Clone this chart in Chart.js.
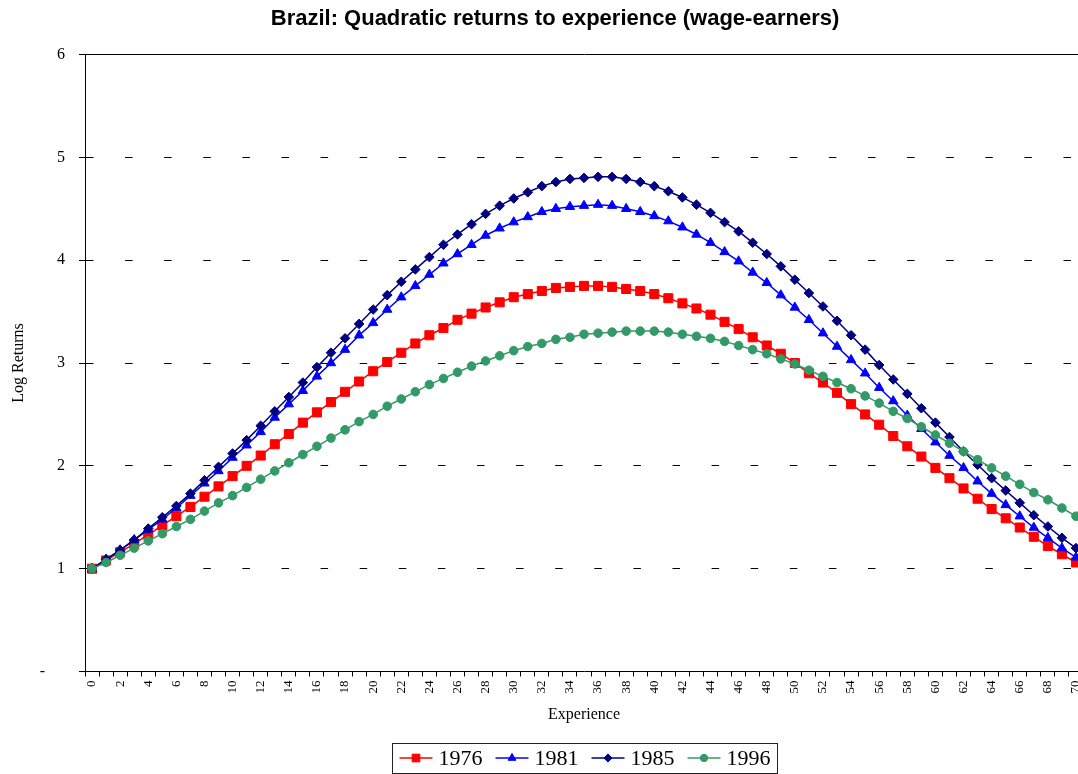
<!DOCTYPE html>
<html>
<head>
<meta charset="utf-8">
<title>Brazil: Quadratic returns to experience</title>
<script src="https://cdn.jsdelivr.net/npm/chart.js@4.4.1/dist/chart.umd.min.js"></script>
<style>
html,body{margin:0;padding:0;overflow:hidden;background:#fff;}
#wrap{position:relative;width:1110px;height:774px;}
</style>
</head>
<body>
<div id="wrap"><canvas id="chart"></canvas></div>
<script>
'use strict';

// years of experience (x categories)
const experience = ['0','1','2','3','4','5','6','7','8','9','10','11','12','13','14','15','16','17','18','19',
  '20','21','22','23','24','25','26','27','28','29','30','31','32','33','34','35','36','37','38','39',
  '40','41','42','43','44','45','46','47','48','49','50','51','52','53','54','55','56','57','58','59',
  '60','61','62','63','64','65','66','67','68','69','70'];

const r1976 = [1.00,1.08,1.16,1.24,1.33,1.42,1.51,1.60,1.70,1.80,
  1.90,2.00,2.10,2.21,2.31,2.42,2.52,2.62,2.72,2.82,
  2.92,3.01,3.10,3.19,3.27,3.34,3.42,3.48,3.54,3.59,
  3.64,3.67,3.70,3.73,3.74,3.75,3.75,3.74,3.72,3.70,
  3.67,3.63,3.58,3.53,3.47,3.40,3.33,3.25,3.17,3.09,
  3.00,2.90,2.81,2.71,2.60,2.50,2.40,2.29,2.19,2.09,
  1.98,1.88,1.78,1.68,1.58,1.49,1.40,1.31,1.22,1.14,1.06];

const r1981 = [1.00,1.09,1.18,1.28,1.38,1.48,1.59,1.71,1.83,1.95,
  2.08,2.20,2.33,2.47,2.60,2.73,2.87,3.00,3.13,3.27,
  3.39,3.52,3.64,3.75,3.86,3.97,4.06,4.15,4.24,4.31,
  4.37,4.42,4.47,4.50,4.52,4.53,4.54,4.53,4.50,4.47,
  4.43,4.38,4.32,4.25,4.17,4.08,3.99,3.88,3.78,3.66,
  3.54,3.42,3.29,3.16,3.03,2.90,2.76,2.63,2.49,2.36,
  2.23,2.10,1.98,1.85,1.73,1.62,1.51,1.40,1.30,1.20,1.11];

const r1985 = [1.00,1.09,1.18,1.28,1.39,1.50,1.61,1.73,1.86,1.99,
  2.12,2.25,2.39,2.53,2.67,2.81,2.96,3.10,3.24,3.38,
  3.52,3.66,3.79,3.91,4.03,4.15,4.25,4.35,4.45,4.53,
  4.60,4.66,4.72,4.76,4.79,4.80,4.81,4.81,4.79,4.76,
  4.72,4.67,4.61,4.54,4.46,4.37,4.28,4.17,4.06,3.94,
  3.81,3.68,3.55,3.41,3.27,3.13,2.98,2.84,2.70,2.56,
  2.42,2.28,2.14,2.01,1.88,1.76,1.64,1.52,1.41,1.30,1.20];

const r1996 = [1.00,1.06,1.13,1.20,1.27,1.34,1.41,1.48,1.56,1.64,
  1.71,1.79,1.87,1.95,2.03,2.11,2.19,2.27,2.35,2.43,
  2.50,2.58,2.65,2.72,2.79,2.85,2.91,2.97,3.02,3.07,
  3.12,3.16,3.19,3.23,3.25,3.28,3.29,3.30,3.31,3.31,
  3.31,3.30,3.28,3.26,3.24,3.21,3.17,3.13,3.09,3.04,
  2.99,2.93,2.87,2.81,2.75,2.68,2.61,2.53,2.46,2.38,
  2.30,2.22,2.14,2.06,1.98,1.90,1.82,1.74,1.67,1.59,1.51];

const SERIF = '"Liberation Serif", "Times New Roman", serif';
const SANS = '"Liberation Sans", Arial, sans-serif';

function series(label, data, color, style, radius, order) {
  return {
    label, data, order,
    borderColor: color, backgroundColor: color,
    borderWidth: 1.5, tension: 0,
    pointStyle: style, pointRadius: radius, pointHoverRadius: radius,
    pointBorderWidth: 1, pointBorderColor: color, pointBackgroundColor: color
  };
}

// Excel-like boxed legend: line + marker + year, centred under the plot
const boxLegend = {
  id: 'boxLegend',
  afterDraw(chart) {
    const {ctx, chartArea} = chart;
    const sets = chart.data.datasets;
    ctx.save();
    ctx.font = '22px ' + SERIF;
    const lineW = 33, gap = 6, pad = 7, itemGap = 13;
    const widths = sets.map(ds => ctx.measureText(ds.label).width);
    const total = pad * 2 + widths.reduce((a, w) => a + lineW + gap + w, 0) + itemGap * (sets.length - 1);
    const cx = (chartArea.left + chartArea.right) / 2;
    const top = 743, h = 30, cy = top + h / 2;
    let x = Math.round(cx - total / 2) + 0.5;
    ctx.strokeStyle = '#222'; ctx.lineWidth = 1;
    ctx.strokeRect(x, top + 0.5, total, h);
    x += pad;
    sets.forEach((ds, i) => {
      ctx.strokeStyle = ds.borderColor; ctx.fillStyle = ds.backgroundColor;
      ctx.lineWidth = ds.borderWidth;
      ctx.beginPath(); ctx.moveTo(x, cy); ctx.lineTo(x + lineW, cy); ctx.stroke();
      ctx.lineWidth = 1;
      Chart.helpers.drawPoint(ctx, {pointStyle: ds.pointStyle, radius: ds.pointRadius * 0.85, rotation: 0, borderWidth: 1}, x + lineW / 2, cy);
      ctx.fillStyle = '#000'; ctx.textBaseline = 'middle'; ctx.textAlign = 'left';
      ctx.fillText(ds.label, x + lineW + gap, cy + 1);
      x += lineW + gap + widths[i] + itemGap;
    });
    ctx.restore();
  }
};

new Chart(document.getElementById('chart'), {
  type: 'line',
  data: {
    labels: experience,
    datasets: [
      series('1976', r1976, '#FF0000', 'rect', 6.4, 3),
      series('1981', r1981, '#0000FF', 'triangle', 5.4, 2),
      series('1985', r1985, '#000080', 'rectRot', 4.8, 1),
      series('1996', r1996, '#339966', 'circle', 4.3, 0)
    ]
  },
  options: {
    responsive: true, maintainAspectRatio: false, animation: false,
    // left padding moves the centred title to where the original sits
    layout: {padding: {left: 27, right: 27, top: 0, bottom: 50}},
    plugins: {
      legend: {display: false},
      tooltip: {enabled: false},
      title: {
        display: true, text: 'Brazil: Quadratic returns to experience (wage-earners)',
        color: '#000', font: {family: SANS, size: 22, weight: 'bold'},
        padding: {top: 6, bottom: 22.1}
      }
    },
    scales: {
      x: {
        type: 'category', offset: true,
        grid: {display: true, drawOnChartArea: false, drawTicks: true, tickLength: 5, color: '#000', offset: true},
        border: {display: true, color: '#000', width: 1},
        ticks: {
          autoSkip: false, maxRotation: 90, minRotation: 90, padding: 4, color: '#000',
          font: {family: SERIF, size: 13},
          callback(v, i) { return i % 2 === 0 ? this.getLabelForValue(v) : ''; }
        },
        title: {display: true, text: 'Experience', color: '#000', font: {family: SERIF, size: 16}, padding: {top: 4, bottom: 0}},
        afterFit(s) { s.height = 52.5; }
      },
      y: {
        min: 0, max: 6,
        grid: {color: '#000', lineWidth: 1, drawTicks: true, tickLength: 6},
        border: {display: true, color: '#000', width: 1,
          dash: c => (c.tick && c.tick.value === 6) ? [] : [7.5, 31.6]},
        ticks: {
          stepSize: 1, padding: 14, color: '#000', font: {family: SERIF, size: 16},
          callback: v => v === 0 ? '-\u00a0\u00a0\u00a0\u00a0\u00a0' : v
        },
        title: {display: true, text: 'Log Returns', color: '#000', font: {family: SERIF, size: 16}, padding: {top: -18, bottom: 0}},
        afterFit(s) { s.width = 58; }
      }
    }
  },
  plugins: [boxLegend]
});
</script>
</body>
</html>
